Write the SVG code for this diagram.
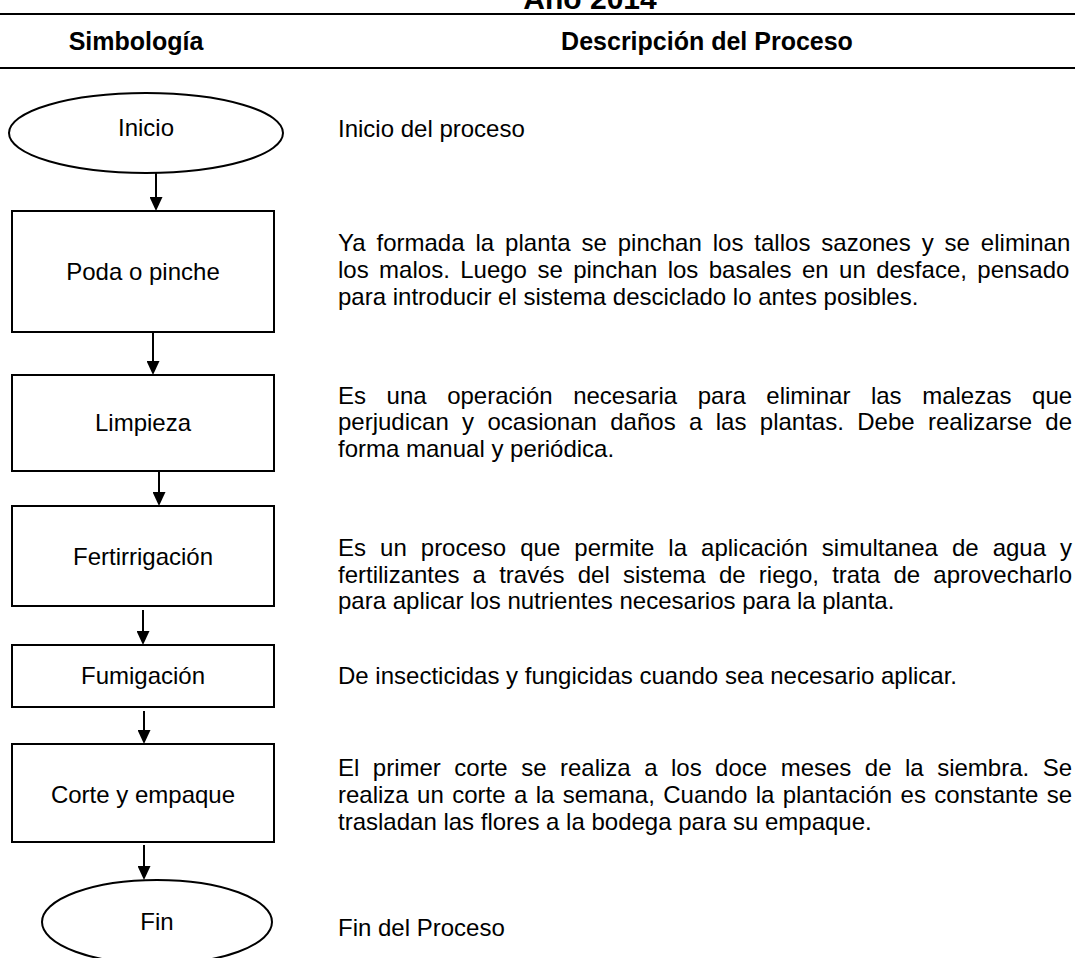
<svg xmlns="http://www.w3.org/2000/svg" width="1075" height="958" viewBox="0 0 1075 958">
<style>
  text { font-family: "Liberation Sans", Arial, sans-serif; fill: #000; }
  .title { font-size: 30px; font-weight: bold; text-anchor: middle; }
  .hdr { font-size: 25px; font-weight: bold; text-anchor: middle; }
  .lbl { font-size: 24px; text-anchor: middle; }
  .desc { font-size: 24px; }
  .shape { fill: #fff; stroke: #000; stroke-width: 2; }
  .rule { stroke: #000; stroke-width: 2; }
  .conn line { stroke: #000; stroke-width: 2; }
</style>
<defs>
  <marker id="arrow" viewBox="0 0 14 13" refX="8" refY="6.5" markerWidth="14" markerHeight="13" orient="auto" markerUnits="userSpaceOnUse">
    <path d="M0,0 L14,6.5 L0,13 z" fill="#000"/>
  </marker>
</defs>
<rect width="1075" height="958" fill="#fff"/>

<g id="header">
  <text class="title" x="590" y="9">Año 2014</text>
  <line class="rule" x1="0" y1="14" x2="1075" y2="14"/>
  <text class="hdr" x="136" y="50">Simbología</text>
  <text class="hdr" x="707" y="50">Descripción del Proceso</text>
  <line class="rule" x1="0" y1="68" x2="1075" y2="68"/>
</g>

<g id="node-inicio">
  <ellipse class="shape" cx="146" cy="133" rx="137" ry="40"/>
  <text class="lbl" x="146" y="136">Inicio</text>
</g>
<g id="node-poda">
  <rect class="shape" x="12" y="211" width="262" height="121"/>
  <text class="lbl" x="143" y="280">Poda o pinche</text>
</g>
<g id="node-limpieza">
  <rect class="shape" x="12" y="375" width="262" height="96"/>
  <text class="lbl" x="143" y="431">Limpieza</text>
</g>
<g id="node-fertirrigacion">
  <rect class="shape" x="12" y="506" width="262" height="100"/>
  <text class="lbl" x="143" y="565">Fertirrigación</text>
</g>
<g id="node-fumigacion">
  <rect class="shape" x="12" y="645" width="262" height="62"/>
  <text class="lbl" x="143" y="684">Fumigación</text>
</g>
<g id="node-corte">
  <rect class="shape" x="12" y="744" width="262" height="98"/>
  <text class="lbl" x="143" y="803">Corte y empaque</text>
</g>
<g id="node-fin">
  <ellipse class="shape" cx="157" cy="922" rx="115" ry="42"/>
  <text class="lbl" x="157" y="930">Fin</text>
</g>

<g id="connectors" class="conn">
  <line x1="156" y1="173" x2="156" y2="205" marker-end="url(#arrow)"/>
  <line x1="153" y1="332" x2="153" y2="369" marker-end="url(#arrow)"/>
  <line x1="159" y1="471" x2="159" y2="500" marker-end="url(#arrow)"/>
  <line x1="143" y1="610" x2="143" y2="639" marker-end="url(#arrow)"/>
  <line x1="144" y1="711" x2="144" y2="738" marker-end="url(#arrow)"/>
  <line x1="144" y1="845" x2="144" y2="874" marker-end="url(#arrow)"/>
</g>

<g id="descriptions">
  <text class="desc" x="338" y="137">Inicio del proceso</text>

  <text class="desc" x="338" y="251" style="word-spacing:4.27px">Ya formada la planta se pinchan los tallos sazones y se eliminan</text>
  <text class="desc" x="338" y="278" style="word-spacing:3.76px">los malos. Luego se pinchan los basales en un desface, pensado</text>
  <text class="desc" x="338" y="305">para introducir el sistema desciclado lo antes posibles.</text>

  <text class="desc" x="338" y="404" style="word-spacing:13.89px">Es una operación necesaria para eliminar las malezas que</text>
  <text class="desc" x="338" y="430" style="word-spacing:6.7px">perjudican y ocasionan daños a las plantas. Debe realizarse de</text>
  <text class="desc" x="338" y="457">forma manual y periódica.</text>

  <text class="desc" x="338" y="556" style="word-spacing:7.37px">Es un proceso que permite la aplicación simultanea de agua y</text>
  <text class="desc" x="338" y="583" style="word-spacing:6.56px">fertilizantes a través del sistema de riego, trata de aprovecharlo</text>
  <text class="desc" x="338" y="609">para aplicar los nutrientes necesarios para la planta.</text>

  <text class="desc" x="338" y="684">De insecticidas y fungicidas cuando sea necesario aplicar.</text>

  <text class="desc" x="338" y="776" style="word-spacing:6.81px">El primer corte se realiza a los doce meses de la siembra. Se</text>
  <text class="desc" x="338" y="803" style="word-spacing:1.73px">realiza un corte a la semana, Cuando la plantación es constante se</text>
  <text class="desc" x="338" y="830">trasladan las flores a la bodega para su empaque.</text>

  <text class="desc" x="338" y="936">Fin del Proceso</text>
</g>
</svg>
